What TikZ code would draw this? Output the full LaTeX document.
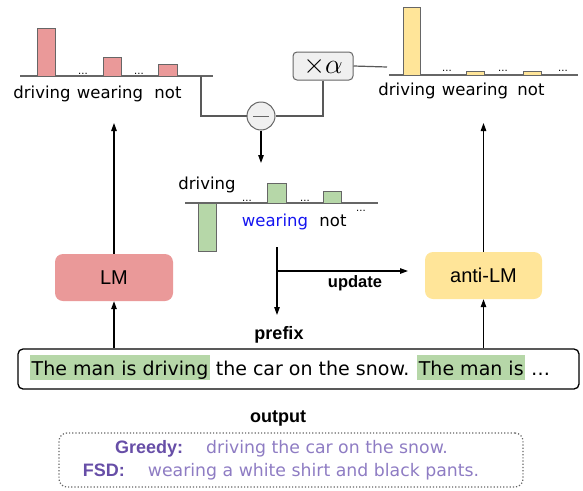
\documentclass[tikz,border=0pt]{standalone}
\usepackage{fontspec}
\usepackage{graphicx}
\setmainfont{DejaVu Sans}
\newfontfamily\arialf{Liberation Sans}
\usetikzlibrary{arrows.meta}
\definecolor{lmred}{HTML}{EA9999}
\definecolor{lmyel}{HTML}{FFE599}
\definecolor{lmgrn}{HTML}{B6D7A8}
\definecolor{edgegray}{HTML}{666666}
\definecolor{ppdark}{HTML}{674EA7}
\definecolor{pplight}{HTML}{8E7CC3}
\definecolor{bluew}{HTML}{1515F0}
\newcommand\hlt[1]{{\setlength{\fboxsep}{1.5pt}\colorbox{lmgrn}{\rule[-3.5pt]{0pt}{22pt}#1}}}
\begin{document}
\begin{tikzpicture}[x=1pt,y=-1pt,
  bar/.style={draw=edgegray,line width=0.9pt},
  axis/.style={draw=edgegray,line width=1.2pt},
  conn/.style={draw=black!65,line width=1.2pt},
  arr/.style={draw=black,line width=1.2pt,-{Triangle[length=8pt,width=5.5pt]}},
  lbl/.style={font=\fontsize{16.5}{18}\selectfont,inner sep=0pt,anchor=base},
  dotsl/.style={font=\fontsize{10}{10}\selectfont,inner sep=0pt,anchor=base},
  model/.style={rounded corners=8pt,minimum width=118pt,minimum height=47pt,inner sep=0pt,font=\arialf\fontsize{20}{22}\selectfont},
  boldl/.style={font=\arialf\bfseries\fontsize{18}{20}\selectfont,inner sep=0pt,anchor=base}
]
\useasboundingbox (0,0) rectangle (583,490);

% left chart
\draw[axis] (20,76) -- (213,76);
\filldraw[bar,fill=lmred] (37,76) rectangle (55,28);
\filldraw[bar,fill=lmred] (103,76) rectangle (121,57);
\filldraw[bar,fill=lmred] (158,76) rectangle (177,64);
\node[dotsl] (ld1) at (83,74) {...};
\node[dotsl] (ld2) at (139,74) {...};
\node[lbl] (lw1) at (42,98) {driving};
\node[lbl] (lw2) at (110,98) {wearing};
\node[lbl] (lw3) at (168,98) {not};

% right chart
\draw[axis] (389,75) -- (578,75);
\filldraw[bar,fill=lmyel] (403,75) rectangle (420,7);
\filldraw[bar,fill=lmyel] (466,75) rectangle (484,71);
\filldraw[bar,fill=lmyel] (523,75) rectangle (541,71);
\node[dotsl] (rd1) at (447,71) {...};
\node[dotsl] (rd2) at (503,71) {...};
\node[dotsl] (rd3) at (563,71) {...};
\node[lbl] (rw1) at (407,95) {driving};
\node[lbl] (rw2) at (475,95) {wearing};
\node[lbl] (rw3) at (531,95) {not};

% minus circle and alpha box
\node[circle,draw=edgegray,fill=gray!12,line width=1pt,minimum size=28pt,inner sep=0pt,
  path picture={\draw[line width=0.9pt] ([xshift=-8pt]path picture bounding box.center) -- ([xshift=8pt]path picture bounding box.center);}] (minus) at (261,116) {};
\node[draw=edgegray,fill=gray!12,rounded corners=4pt,line width=1pt,minimum width=60pt,minimum height=28pt,inner sep=0pt,font=\fontsize{20}{22}\selectfont] (alpha) at (323,66) {\scalebox{1.35}{$\times\alpha$}};
\coordinate (lbend) at (201,76);
\coordinate (ralpha) at (387,67);
\draw[conn] (lbend) |- (minus.west);
\draw[conn] (alpha.south) |- (minus.east);
\draw[conn] (alpha.east) -- (ralpha);
\coordinate (mtip) at (261,163);
\draw[arr] (minus.south) -- (mtip);

% middle chart
\draw[axis] (185,203) -- (378,203);
\filldraw[bar,fill=lmgrn] (198,203) rectangle (216,251);
\filldraw[bar,fill=lmgrn] (267,203) rectangle (286,183);
\filldraw[bar,fill=lmgrn] (323,203) rectangle (341,191);
\node[dotsl] (md1) at (247,201) {...};
\node[dotsl] (md2) at (305,201) {...};
\node[dotsl] (md3) at (361,211) {...};
\node[lbl] (mw1) at (207,189) {driving};
\node[lbl,text=bluew] (mw2) at (275,226) {wearing};
\node[lbl] (mw3) at (333,226) {not};

% models
\node[model,fill=lmred] (lm) at (114,277.5) {LM};
\node[model,fill=lmyel,minimum width=117pt] (alm) at (483.5,275.5) {anti-LM};
\coordinate (lmtip) at (114,123);
\coordinate (almtip) at (483.5,123);
\draw[arr] (lm.north) -- (lmtip);
\draw[arr] (alm.north) -- (almtip);

% middle flow
\coordinate (mtop) at (277,247);
\coordinate (ptip) at (277,315);
\coordinate (ustart) at (277,271);
\coordinate (uend) at (408,271);
\draw[arr] (mtop) -- (ptip);
\draw[arr] (ustart) -- (uend);
\node[boldl,font=\arialf\bfseries\fontsize{16.5}{18}\selectfont] (upd) at (355,287) {update};
\node[boldl] (prefix) at (279,339) {prefix};

% text box
\node[draw,line width=1.3pt,rounded corners=5pt,minimum width=561pt,minimum height=40pt,inner sep=0pt] (txt) at (298.5,369) {};
\node[inner sep=0pt,anchor=base west,font=\fontsize{19}{22}\selectfont] (line) at (30,375) {\hlt{The man is driving} the car on the snow. \hlt{The man is} …};
\draw[arr] (txt.north -| lm) -- (lm.south);
\draw[arr] (txt.north -| alm) -- (alm.south);

% output
\node[boldl] (outl) at (278,422) {output};
\node[draw=black!60,dotted,line width=1.2pt,rounded corners=8pt,minimum width=464pt,minimum height=54pt,inner sep=0pt] (outbox) at (291,460) {};
\node[inner sep=0pt,anchor=base,font=\fontsize{17.3}{20}\selectfont] (greedy) at (281.5,453) {{\arialf\bfseries\fontsize{18}{20}\selectfont\color{ppdark}Greedy:}\hspace{23pt}{\color{pplight}driving the car on the snow.}};
\node[inner sep=0pt,anchor=base,font=\fontsize{17.3}{20}\selectfont] (fsd) at (281,476) {{\arialf\bfseries\fontsize{18}{20}\selectfont\color{ppdark}FSD:}\hspace{23pt}{\color{pplight}wearing a white shirt and black pants.}};
\end{tikzpicture}
\end{document}
